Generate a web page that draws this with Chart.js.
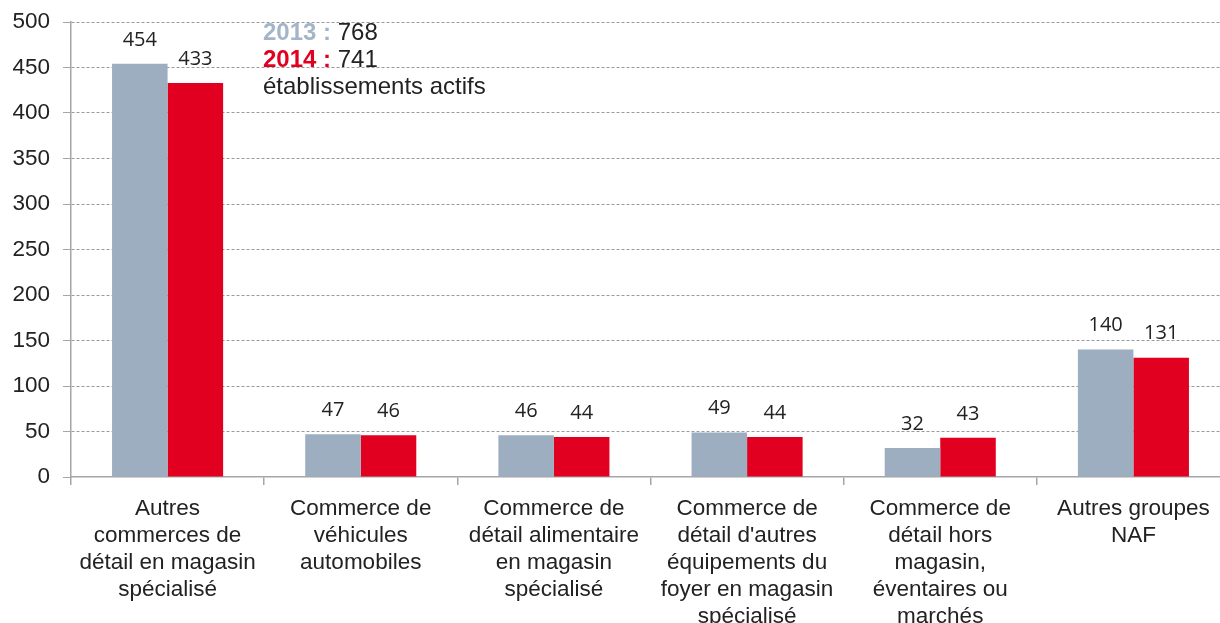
<!DOCTYPE html>
<html>
<head>
<meta charset="utf-8">
<script src="https://cdn.jsdelivr.net/npm/chart.js@4/dist/chart.umd.min.js"></script>
<style>
  html, body { margin: 0; padding: 0; background: #fff; overflow: hidden; }
  #wrap { width: 1232px; height: 623px; }
</style>
</head>
<body>
<div id="wrap"><canvas id="chart" width="1232" height="623"></canvas></div>
<script>
// --- DONNÉES ---
const categories = [
    ["Autres", "commerces de", "détail en magasin", "spécialisé"],
    ["Commerce de", "véhicules", "automobiles"],
    ["Commerce de", "détail alimentaire", "en magasin", "spécialisé"],
    ["Commerce de", "détail d'autres", "équipements du", "foyer en magasin", "spécialisé"],
    ["Commerce de", "détail hors", "magasin,", "éventaires ou", "marchés"],
    ["Autres groupes", "NAF"]
];
const valeurs2013 = [454, 47, 46, 49, 32, 140];
const valeurs2014 = [433, 46, 44, 44, 43, 131];
const totaux = { "2013": 768, "2014": 741 };

const GRIS = '#9caebf';
const ROUGE = '#e20020';

// étiquettes de valeurs au-dessus des barres
const etiquettes = {
    id: 'etiquettes',
    afterDatasetsDraw(chart) {
        const ctx = chart.ctx;
        ctx.save();
        ctx.font = '20px "Open Sans"';
        ctx.fillStyle = '#222';
        ctx.textAlign = 'center';
        ctx.textBaseline = 'middle';
        chart.data.datasets.forEach((ds, i) => {
            chart.getDatasetMeta(i).data.forEach((bar, j) => {
                ctx.fillText(ds.data[j], bar.x, bar.y - 24);
            });
        });
        ctx.restore();
    }
};

// encadré des totaux
const totalTexte = {
    id: 'totalTexte',
    afterDraw(chart) {
        const ctx = chart.ctx;
        const x = 263;
        ctx.save();
        ctx.textBaseline = 'middle';
        ctx.textAlign = 'left';
        const ligne = (annee, couleur, y) => {
            ctx.font = 'bold 24px "Liberation Sans"';
            ctx.fillStyle = couleur;
            const lbl = annee + ' :';
            ctx.fillText(lbl, x, y);
            const w = ctx.measureText(lbl + ' ').width;
            ctx.font = '24px "Liberation Sans"';
            ctx.fillStyle = '#222';
            ctx.fillText(String(totaux[annee]), x + w, y);
        };
        ligne('2013', '#a3b5c8', 33);
        ligne('2014', ROUGE, 60);
        ctx.font = '24px "Liberation Sans"';
        ctx.fillStyle = '#222';
        ctx.fillText('établissements actifs', x, 87);
        ctx.restore();
    }
};

new Chart(document.getElementById('chart'), {
    type: 'bar',
    data: {
        labels: categories,
        datasets: [
            { label: '2013', data: valeurs2013, backgroundColor: GRIS },
            { label: '2014', data: valeurs2014, backgroundColor: ROUGE }
        ]
    },
    options: {
        responsive: false,
        devicePixelRatio: 1,
        animation: false,
        layout: { padding: { top: 22, right: 2, left: 0, bottom: 0 } },
        plugins: { legend: { display: false }, tooltip: { enabled: false } },
        datasets: { bar: { categoryPercentage: 0.575, barPercentage: 1 } },
        scales: {
            x: {
                afterFit: (s) => { s.height = 146; s.paddingLeft = 0; s.paddingRight = 0; },
                grid: {
                    drawOnChartArea: false,
                    drawTicks: true,
                    tickLength: 8,
                    tickColor: '#a6a6a6',
                    lineWidth: 1.5
                },
                border: { display: true, color: '#a6a6a6', width: 1.5 },
                ticks: {
                    color: '#222',
                    font: { family: '"Liberation Sans"', size: 22.5, lineHeight: 27 / 22.5 },
                    padding: 10,
                    maxRotation: 0,
                    autoSkip: false
                }
            },
            y: {
                min: 0,
                max: 500,
                afterFit: (s) => { s.width = 71; s.paddingTop = 0; s.paddingBottom = 0; },
                grid: {
                    color: (c) => c.tick && c.tick.value === 0 ? 'rgba(0,0,0,0)' : '#9a9a9a',
                    tickBorderDash: [],
                    tickColor: '#a6a6a6',
                    tickLength: 8,
                    lineWidth: 1
                },
                border: { display: true, color: '#a6a6a6', width: 1.5, dash: [3, 2] },
                ticks: {
                    stepSize: 50,
                    color: '#222',
                    font: { family: '"Liberation Sans"', size: 22.5 },
                    padding: 13
                }
            }
        }
    },
    plugins: [etiquettes, totalTexte]
});
</script>
</body>
</html>
